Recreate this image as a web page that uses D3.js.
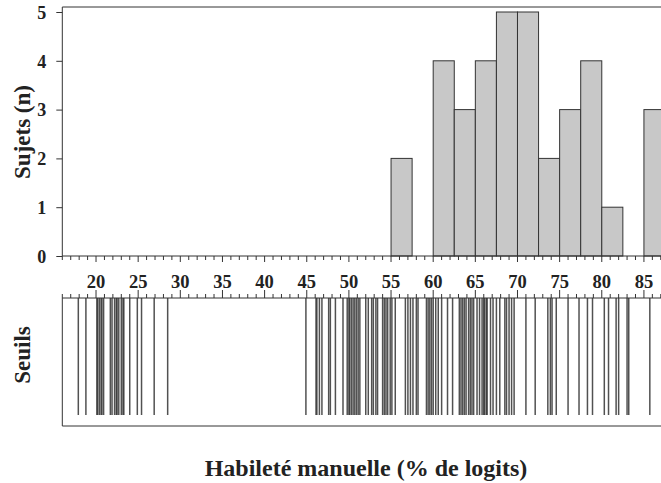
<!DOCTYPE html>
<html>
<head>
<meta charset="utf-8">
<script src="https://cdn.jsdelivr.net/npm/d3@7/dist/d3.min.js"></script>
<style>
  html, body { margin: 0; padding: 0; background: #fff; }
  svg { display: block; }
</style>
</head>
<body>
<svg id="chart" width="661" height="483"></svg>
<script>
// Histogram bins (lower bound of each 2.5-point bin) and subject counts
const binStarts = [55, 57.5, 60, 62.5, 65, 67.5, 70, 72.5, 75, 77.5, 80, 82.5, 85];
const binCounts = [2, 0, 4, 3, 4, 5, 5, 2, 3, 4, 1, 0, 3];
const binWidth = 2.5;

// Threshold locations (% of logits)
const thresholds = [
  17.9, 18.8, 20.1, 20.2, 20.4, 20.6, 20.7, 20.9, 21.7, 21.9, 22.2, 22.4, 22.5, 22.7,
  23.0, 23.2, 23.3, 24.0, 24.9, 25.4, 26.9, 28.5,
  44.9, 46.1, 46.2, 46.5, 46.8, 47.6, 47.8, 48.4, 49.3, 49.8, 50.0, 50.1, 50.3, 50.5,
  50.7, 50.9, 51.1, 51.3, 52.0, 52.3, 52.7, 52.9, 53.2, 53.4, 54.0, 54.2, 54.4, 54.6,
  54.9, 55.1, 55.5, 56.7, 57.0, 57.3, 57.6, 58.0, 58.2,
  59.2, 59.4, 59.6, 59.8, 60.0, 60.3, 60.6, 61.0, 61.7, 62.3, 63.1, 63.3, 63.5, 63.7,
  63.9, 64.2, 64.4, 64.6, 64.8, 65.2, 65.5, 65.8, 66.0, 66.1, 66.3, 66.4, 66.8, 67.1,
  67.5, 67.9, 68.5, 68.7, 69.0, 69.3, 69.6,
  71.0, 72.1, 73.6, 73.9, 74.1, 74.6, 76.0, 77.3, 78.3, 78.9, 80.3, 80.8, 81.7, 82.0,
  83.0, 83.2, 85.7
];

const xTickLabels = [20, 25, 30, 35, 40, 45, 50, 55, 60, 65, 70, 75, 80, 85];
const yTickLabels = [0, 1, 2, 3, 4, 5];

const FONT = "'Liberation Serif', 'Times New Roman', 'DejaVu Serif', serif";
const TEXT = "#222";

const svg = d3.select("#chart");
const W = 661;

const x = d3.scaleLinear().domain([16, 87.5]).range([62.3, 665]);
const y = d3.scaleLinear().domain([0, 5]).range([256, 12]);

const topY = 7, baseY = 256;
const rugTop = 298, rugBottom = 415, rugFrameBottom = 426;
const axisColor = "#333";

function label(sel, size) {
  return sel.attr("font-family", FONT).attr("font-weight", "bold")
    .attr("font-size", size).attr("fill", TEXT);
}

// ---------- Upper panel: histogram ----------
const histG = svg.append("g");

histG.selectAll("rect.bar")
  .data(binStarts.map((s, i) => ({ s, n: binCounts[i] })).filter(d => d.n > 0))
  .join("rect")
  .attr("class", "bar")
  .attr("x", d => x(d.s))
  .attr("y", d => y(d.n))
  .attr("width", d => x(d.s + binWidth) - x(d.s))
  .attr("height", d => y(0) - y(d.n))
  .attr("fill", "#c8c8c8")
  .attr("stroke", "#333")
  .attr("stroke-width", 1);

// frame: top line
histG.append("line").attr("x1", x.range()[0]).attr("x2", W).attr("y1", topY).attr("y2", topY)
  .attr("stroke", axisColor).attr("stroke-width", 1);

// y axis
const yAxis = d3.axisLeft(y).tickValues(yTickLabels).tickSize(6).tickFormat(d3.format("d"));
const yg = histG.append("g").attr("transform", `translate(${x.range()[0]},0)`).call(yAxis);
yg.attr("font-family", null).attr("font-size", null);
yg.select(".domain").attr("d", `M0,${topY}V${baseY}`).attr("stroke", axisColor);
yg.selectAll(".tick line").attr("stroke", axisColor);
label(yg.selectAll(".tick text"), 18).attr("x", -16).attr("dy", "0.35em");

// bottom x axis of histogram: ticks every unit, longer at multiples of 5
const unitTicks = d3.range(16, 88);
histG.append("line").attr("x1", x.range()[0]).attr("x2", W).attr("y1", baseY).attr("y2", baseY)
  .attr("stroke", axisColor).attr("stroke-width", 1);
histG.selectAll("line.tk")
  .data(unitTicks).join("line").attr("class", "tk")
  .attr("x1", d => x(d)).attr("x2", d => x(d))
  .attr("y1", baseY).attr("y2", d => baseY + (d % 5 === 0 ? 6 : 4))
  .attr("stroke", axisColor).attr("stroke-width", 1);

// x tick labels between the panels
label(svg.selectAll("text.xl")
  .data(xTickLabels).join("text").attr("class", "xl"), 18.5)
  .attr("x", d => x(d)).attr("y", 288)
  .attr("text-anchor", "middle")
  .text(d => d);

// ---------- Lower panel: thresholds ----------
const rugG = svg.append("g");
rugG.append("path")
  .attr("d", `M${W},${rugTop}H${x.range()[0]}V${rugFrameBottom}H${W}`)
  .attr("fill", "none").attr("stroke", axisColor).attr("stroke-width", 1);
rugG.selectAll("line.tk2")
  .data(unitTicks).join("line").attr("class", "tk2")
  .attr("x1", d => x(d)).attr("x2", d => x(d))
  .attr("y1", rugTop).attr("y2", d => rugTop - (d % 5 === 0 ? 8 : 4))
  .attr("stroke", axisColor).attr("stroke-width", 1);

rugG.selectAll("line.rug")
  .data(thresholds).join("line").attr("class", "rug")
  .attr("x1", d => x(d)).attr("x2", d => x(d))
  .attr("y1", rugTop).attr("y2", rugBottom)
  .attr("stroke", "#333").attr("stroke-opacity", 0.85).attr("stroke-width", 1.5);

// ---------- Titles ----------
label(svg.append("text"), 23)
  .attr("transform", "translate(30,132) rotate(-90)")
  .attr("text-anchor", "middle")
  .text("Sujets (n)");

label(svg.append("text"), 23)
  .attr("transform", "translate(30,355) rotate(-90)")
  .attr("text-anchor", "middle")
  .text("Seuils");

label(svg.append("text"), 24)
  .attr("x", 366).attr("y", 476)
  .attr("text-anchor", "middle")
  .text("Habileté manuelle (% de logits)");
</script>
</body>
</html>
